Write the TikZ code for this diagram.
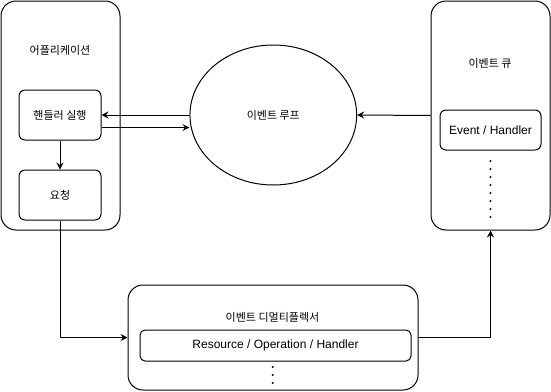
\documentclass[tikz,border=0pt]{standalone}
\usepackage{fontspec}
\setmainfont{Liberation Sans}
\newfontfamily\kr{Noto Sans CJK KR}
\usetikzlibrary{arrows.meta,shapes.geometric}
\newcommand{\dotcol}[3]{\foreach \k in {0,...,#3} \fill (#1,#2+8*\k) circle (1.1)}
\tikzset{
	pane/.style={draw, rounded corners=15pt, inner sep=0pt},
	cell/.style={draw, rounded corners=6pt, inner sep=0pt},
	krtext/.style={font=\kr\fontsize{11}{13}\selectfont},
	entext/.style={font=\fontsize{12}{14}\selectfont},
	flow/.style={-{Stealth[length=7pt,width=7pt,inset=2.5pt]}}
}

\begin{document}
\begin{tikzpicture}[x=1pt, y=-1pt, line width=1pt]
\useasboundingbox (0,0) rectangle (551,391);
%Application
	\node[pane, minimum width=119pt, minimum height=229pt] (app) at (60.5,115.5) {};
	\node[krtext] (applabel) at (60,50) {어플리케이션};
	\node[cell, minimum width=82pt, minimum height=50pt, krtext] (handler) at (60,115) {핸들러 실행};
	\node[cell, minimum width=82pt, minimum height=50pt, krtext] (req) at (60,195) {요청};
%Event loop
	\node[ellipse, draw, minimum width=166.7pt, minimum height=140pt, inner sep=0pt, krtext] (loop) at (273.3,115) {이벤트 루프};
%Event queue
	\node[pane, minimum width=119pt, minimum height=229pt] (queue) at (490.5,115.5) {};
	\node[krtext] (queuelabel) at (490,63) {이벤트 큐};
	\node[cell, minimum width=101pt, minimum height=40pt, entext] (evhandler) at (490.5,130) {Event / Handler};
	\dotcol{490.5}{161}{7};
%Demultiplexer
	\node[pane, minimum width=290pt, minimum height=105pt] (demux) at (273,337.5) {};
	\node[krtext] (demuxlabel) at (272.5,317) {이벤트 디멀티플렉서};
	\node[cell, rounded corners=5pt, minimum width=271pt, minimum height=31pt, entext] (resource) at (275.5,345.5) {Resource / Operation / Handler};
	\dotcol{272.7}{367}{2};
%Arrows
	\draw[flow] (loop.west) -- (handler.east);
	\draw[flow] ([yshift=-12.5pt]handler.east) -- ([yshift=-12.5pt]loop.west);
	\draw[flow] (handler.south) -- (req.north);
	\draw[flow] (queue.west) -- (loop.east);
	\draw[flow] (req.south) |- (demux.west);
	\draw[flow] (demux.east) -| (queue.south);
\end{tikzpicture}
\end{document}
